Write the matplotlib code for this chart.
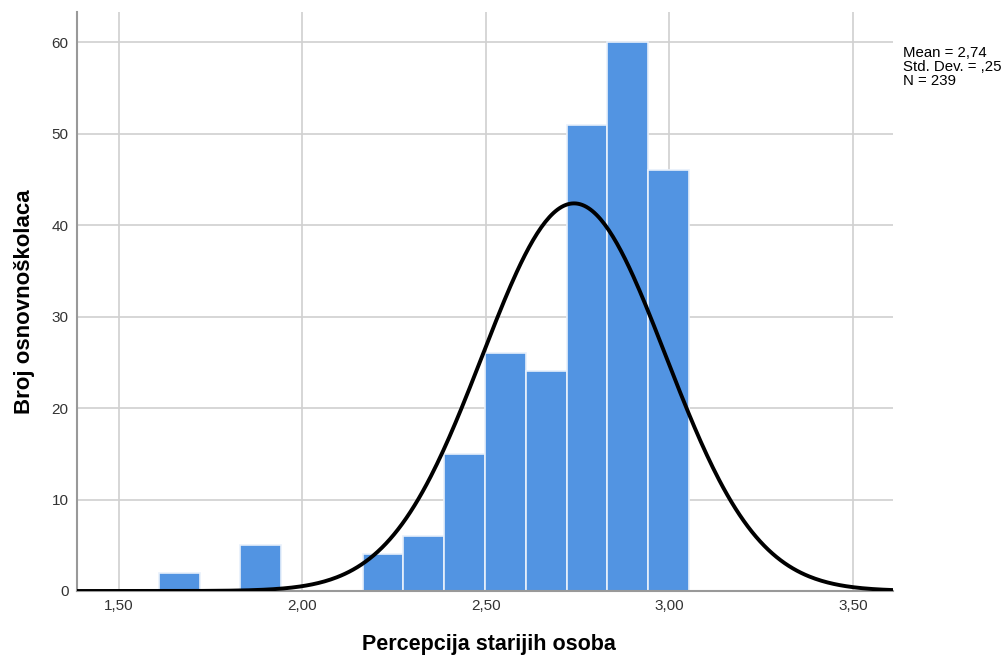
import numpy as np
from matplotlib import pyplot as plt

plt.rcParams['font.family'] = ['Liberation Sans', 'DejaVu Sans']

# Histogram bins (left edges) and counts
bin_width = 1 / 9
bin_left = 3.053 - bin_width * np.arange(13, 0, -1)
counts = [2, 0, 5, 0, 0, 4, 6, 15, 26, 24, 51, 60, 46]

mean, sd, n = 2.74, 0.25, 239

x_ticks = [1.5, 2.0, 2.5, 3.0, 3.5]
x_tick_labels = ['1,50', '2,00', '2,50', '3,00', '3,50']
y_ticks = [0, 10, 20, 30, 40, 50, 60]

fig = plt.figure(figsize=(10.07, 6.59), dpi=100)
ax = fig.add_axes([0.0765, 0.1032, 0.8103, 0.8786])

ax.bar(bin_left, counts, width=bin_width, align='edge', color='#5294e2',
       edgecolor='#e8f0fb', linewidth=1.2, zorder=2)

xs = np.linspace(1.386, 3.609, 400)
curve = n * bin_width * np.exp(-0.5 * ((xs - mean) / sd) ** 2) / (sd * np.sqrt(2 * np.pi))
ax.plot(xs, curve, color='black', linewidth=2.8, zorder=3)

ax.set_xlim(1.386, 3.609)
ax.set_ylim(0, 63.3)
ax.set_xticks(x_ticks)
ax.set_xticklabels(x_tick_labels)
ax.set_yticks(y_ticks)
ax.tick_params(length=0, labelsize=11, colors='#333333', pad=6)
ax.grid(True, color='#d0d0d0', linewidth=1.2, zorder=0)
ax.set_axisbelow(True)

for side in ['top', 'right']:
    ax.spines[side].set_visible(False)
for side in ['left', 'bottom']:
    ax.spines[side].set_color('#999999')
    ax.spines[side].set_linewidth(1.5)

ax.set_xlabel('Percepcija starijih osoba', fontsize=15.5, fontweight='bold')
ax.xaxis.set_label_coords(0.505, -0.111, transform=ax.transAxes)
ax.xaxis.label.set_va('bottom')
ax.set_ylabel('Broj osnovnoškolaca', fontsize=16, fontweight='bold', labelpad=12)

fig.text(0.897, 0.93, 'Mean = 2,74\nStd. Dev. = ,25\nN = 239', fontsize=10.8,
         va='top', ha='left', linespacing=1.0)

plt.savefig('out.png', dpi=100)
